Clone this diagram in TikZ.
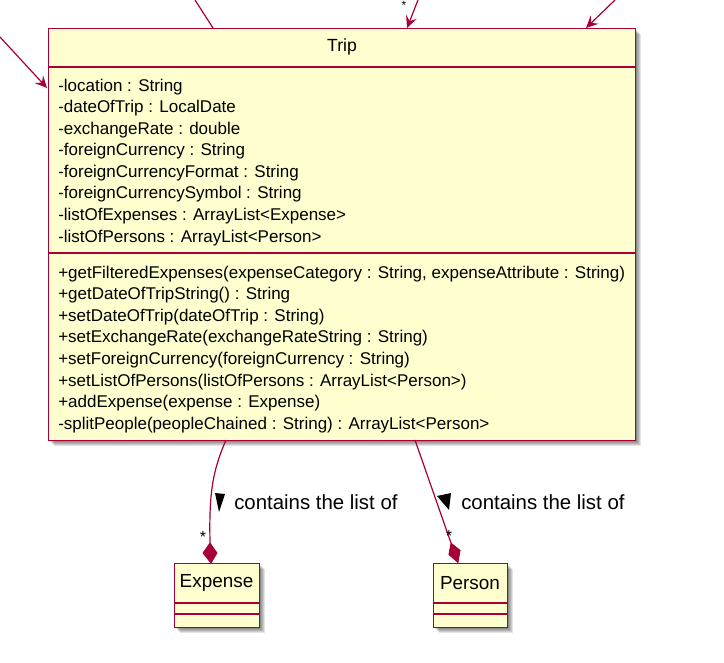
\documentclass[tikz,border=0pt]{standalone}
\usepackage{fontspec}
\setmainfont{Liberation Sans}
\usetikzlibrary{arrows.meta}
\definecolor{umlborder}{HTML}{A80036}
\definecolor{umlfill}{HTML}{FEFECE}
\begin{document}
\begin{tikzpicture}[x=0.75pt,y=-0.75pt,
  cls/.style={draw=umlborder, fill=umlfill, line width=1.1pt, inner sep=0pt, anchor=north west},
  sep/.style={draw=umlborder, line width=1.1pt},
  link/.style={draw=umlborder, line width=0.9pt},
  arr/.style={link, -{Stealth[length=9pt,width=8.5pt,inset=3.5pt]}},
  mem/.style={anchor=base west, inner sep=0pt, font=\fontsize{12.75}{15}\selectfont},
  ttl/.style={inner sep=0pt, font=\fontsize{13.2}{15}\selectfont},
  cname/.style={inner sep=0pt, font=\fontsize{14.2}{16}\selectfont},
  lbl/.style={anchor=west, inner sep=0pt, font=\fontsize{15.3}{17}\selectfont},
  mult/.style={inner sep=0pt, font=\fontsize{12}{14}\selectfont},
  dia/.style={fill=umlborder, draw=umlborder, line width=0.6pt},
  tri/.style={fill=black},
  shadowbox/.style={fill=black, opacity=0.11}
]
\useasboundingbox (0,0) rectangle (724,663);

% shadows
\foreach \d in {2,3,4,5,6}{
  \path[shadowbox] (48+\d,28+\d) rectangle (635+\d,440+\d);
  \path[shadowbox] (174+\d,563+\d) rectangle (259+\d,627+\d);
  \path[shadowbox] (433+\d,563+\d) rectangle (507+\d,627+\d);
}

% Trip class
\node (trip) [cls, minimum width=440.25pt, minimum height=309pt] at (48,28) {};
\draw[sep] (48,67) -- (635,67);
\draw[sep] (48,253) -- (635,253);
\node (triptitle) [ttl] at (342,47) {Trip};

\node (a1) [mem] at (58,91.5) {-location : String};
\node (a2) [mem] at (58,113) {-dateOfTrip : LocalDate};
\node (a3) [mem] at (58,134.5) {-exchangeRate : double};
\node (a4) [mem] at (58,156) {-foreignCurrency : String};
\node (a5) [mem] at (58,177.5) {-foreignCurrencyFormat : String};
\node (a6) [mem] at (58,199) {-foreignCurrencySymbol : String};
\node (a7) [mem] at (58,220.5) {-listOfExpenses : ArrayList<Expense>};
\node (a8) [mem] at (58,242) {-listOfPersons : ArrayList<Person>};

\node (m1) [mem] at (58,278) {+getFilteredExpenses(expenseCategory : String, expenseAttribute : String)};
\node (m2) [mem] at (58,299.6) {+getDateOfTripString() : String};
\node (m3) [mem] at (58,321.2) {+setDateOfTrip(dateOfTrip : String)};
\node (m4) [mem] at (58,342.8) {+setExchangeRate(exchangeRateString : String)};
\node (m5) [mem] at (58,364.4) {+setForeignCurrency(foreignCurrency : String)};
\node (m6) [mem] at (58,386) {+setListOfPersons(listOfPersons : ArrayList<Person>)};
\node (m7) [mem] at (58,407.6) {+addExpense(expense : Expense)};
\node (m8) [mem] at (58,429.2) {-splitPeople(peopleChained : String) : ArrayList<Person>};

% Expense class
\node (expense) [cls, minimum width=63.75pt, minimum height=48pt] at (174,563) {};
\draw[sep] (174,603) -- (259,603);
\draw[sep] (174,614) -- (259,614);
\node (expname) [cname] at (216.5,583) {Expense};

% Person class
\node (person) [cls, minimum width=55.5pt, minimum height=48pt] at (433,563) {};
\draw[sep] (433,603) -- (507,603);
\draw[sep] (433,614) -- (507,614);
\node (pername) [cname] at (470,583) {Person};

% connectors at the bottom
\coordinate (tE) at (226,440);
\coordinate (dE) at (210,543);
\coordinate (tP) at (415,440);
\coordinate (dP) at (451,543);
\draw[link] (tE) .. controls (212,472) and (209,495) .. (dE);
\draw[link] (tP) -- (dP);
\path[dia] (dE) -- (203,553) -- (211,563) -- (217,553) -- cycle;
\path[dia] (dP) -- (448.9,554.6) -- (458,562.5) -- (460.1,550.4) -- cycle;
\node (sE) [mult] at (203,537) {*};
\node (sP) [mult] at (449,536) {*};
\path[tri] (215,493) -- (225,494) -- (219,512) -- cycle;
\path[tri] (437,496) -- (451,493) -- (449,510) -- cycle;
\node (lE) [lbl] at (234,502) {contains the list of};
\node (lP) [lbl] at (461,502) {contains the list of};

% connectors at the top
\coordinate (o1) at (0,37);
\coordinate (i1) at (47,88);
\coordinate (o2) at (195,0);
\coordinate (i2) at (213,28);
\coordinate (o3) at (418,0);
\coordinate (i3) at (407,28);
\coordinate (o4) at (615,0);
\coordinate (i4) at (586,28);
\draw[arr] (o1) -- (i1);
\draw[link] (o2) -- (i2);
\draw[arr] (o3) -- (i3);
\draw[arr] (o4) -- (i4);
\node (s3) [mult, font=\fontsize{9}{10}\selectfont] at (404,5) {*};
\end{tikzpicture}
\end{document}
